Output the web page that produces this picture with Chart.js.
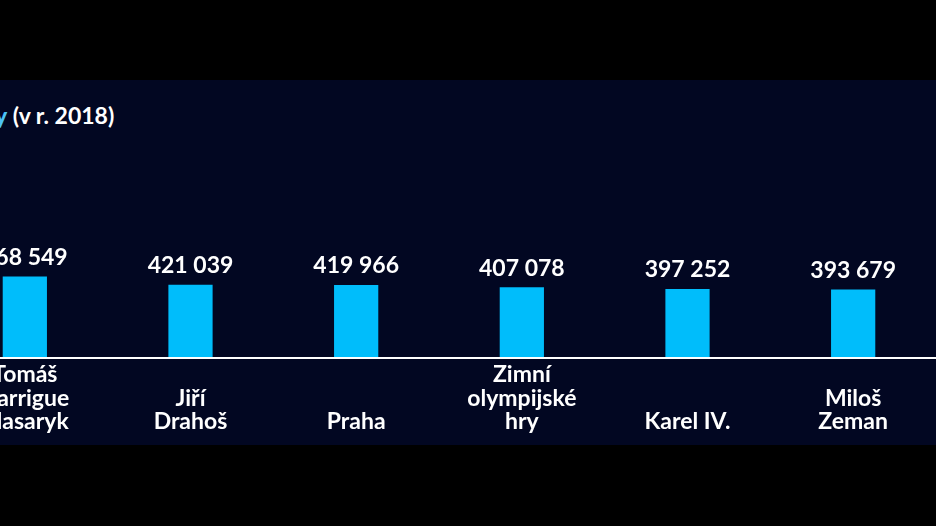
<!DOCTYPE html>
<html><head><meta charset="utf-8">
<script src="https://cdn.jsdelivr.net/npm/chart.js@4"></script>
<style>
html,body{margin:0;padding:0;background:#000;width:936px;height:526px;overflow:hidden;font-family:Lato,sans-serif;}
#bg{position:absolute;left:0;top:80px;width:936px;height:365px;background:#020722;}
#title{position:absolute;left:-5px;top:101px;font:bold 23px Lato;color:#fff;white-space:nowrap;}
#title b{color:#4cc3f5;}
#wrap{position:absolute;left:-58px;top:80px;width:994px;height:365px;}
</style></head><body>
<div id="bg"></div>
<div id="title"><b>y</b> (v r. 2018)</div>
<div id="wrap"><canvas id="c"></canvas></div>
<script>
const categories=[["Tomáš","Garrigue","Masaryk"],["Jiří","Drahoš"],["Praha"],["Zimní","olympijské","hry"],["Karel IV."],["Miloš","Zeman"]];
const values=[468549,421039,419966,407078,397252,393679];
const fmt=v=>String(v).replace(/\B(?=(\d{3})+(?!\d))/g,' ');
const labelsPlugin={id:'lbl',afterDatasetsDraw(ch){
  const ctx=ch.ctx,meta=ch.getDatasetMeta(0),base=ch.scales.y.getPixelForValue(0);
  ctx.save();
  ctx.strokeStyle='#fff';ctx.lineWidth=2;ctx.beginPath();ctx.moveTo(0,base);ctx.lineTo(ch.width,base);ctx.stroke();
  ctx.fillStyle='#fff';ctx.font='bold 23px Lato';ctx.textAlign='center';ctx.textBaseline='middle';
  meta.data.forEach((b,i)=>{
    ctx.fillText(fmt(values[i]),b.x,b.y-19);
    const lines=categories[i];
    lines.forEach((t,j)=>ctx.fillText(t,b.x,base+64-(lines.length-1-j)*23.5));
  });
  ctx.restore();
}};
new Chart(document.getElementById('c'),{
  type:'bar',
  data:{labels:categories.map(c=>c.join(' ')),datasets:[{data:values,backgroundColor:'#00bdfb',categoryPercentage:1,barPercentage:0.267}]},
  options:{responsive:true,maintainAspectRatio:false,animation:false,
    layout:{padding:{top:0,bottom:87,left:0,right:0}},
    plugins:{legend:{display:false},tooltip:{enabled:false}},
    scales:{x:{display:false},y:{display:false,min:0,max:1600000}}},
  plugins:[labelsPlugin]
});
</script></body></html>
